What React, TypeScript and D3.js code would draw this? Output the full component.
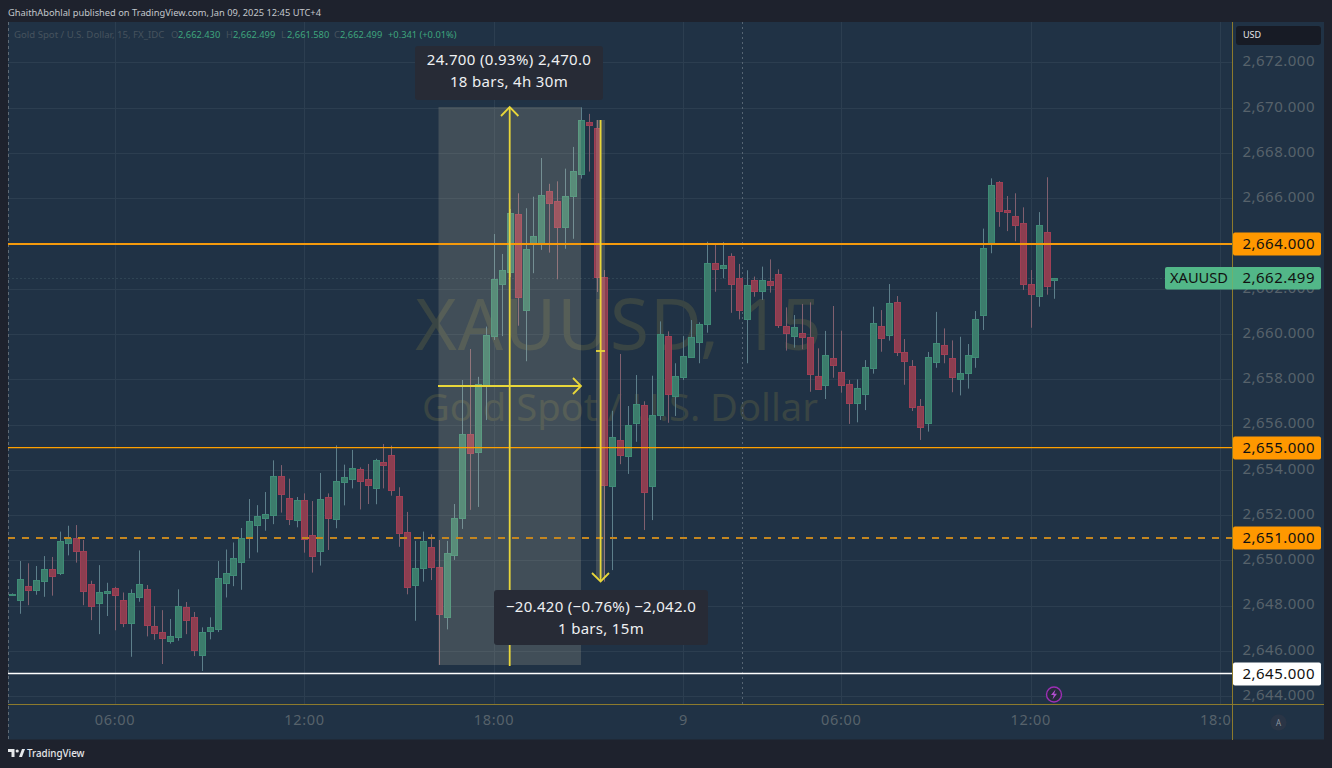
import React from "react";
import * as d3 from "d3";

const opens = [2648.50,2648.25,2648.88,2648.72,2649.12,2649.62,2649.44,2650.78,2651.03,2650.42,2648.96,2648.15,2648.60,2648.82,2648.25,2647.26,2648.38,2648.74,2647.10,2646.84,2646.47,2646.65,2647.94,2647.53,2645.85,2646.91,2647.00,2649.03,2649.39,2649.96,2651.05,2651.57,2651.90,2652.04,2653.77,2652.76,2651.82,
2652.69,2651.14,2650.43,2652.82,2651.86,2653.50,2653.63,2654.04,2653.62,2653.23,2654.37,2654.68,2652.88,2651.26,2648.95,2649.68,2650.62,2649.73,2647.53,2650.27,2651.91,2655.59,2654.82,2657.74,
2659.95,2662.25,2662.78,2665.31,2661.10,2664.00,2664.06,2666.33,2665.89,2664.75,2666.13,2667.11,2669.39,2669.13,2662.56,2653.32,2655.33,2654.63,2656.10,2656.87,2653.31,2656.44,2659.93,2657.30,2658.12,2659.01,2659.68,2660.48,2663.16,2662.95,2663.46,2662.48,2660.70,2662.40,2661.94,2662.35,2662.66,2660.36,2659.93,2660.05,2659.88,2658.15,2657.78,2658.95,2658.33,2657.80,2656.99,2657.38,2658.53,2660.36,2659.99,2661.42,2659.21,2658.61,2656.85,2656.10,2658.80,2659.52,2658.95,2658.05,2658.31,2659.02,2660.88,2664.00,2666.74,2665.49,2665.22,2664.91,2662.22,2661.69,2664.52,2662.43];
const highs = [2648.56,2649.99,2649.89,2649.77,2650.21,2650.17,2651.29,2651.55,2651.58,2650.92,2649.12,2649.81,2649.03,2648.85,2648.60,2648.74,2650.46,2648.93,2648.00,2647.82,2647.43,2648.74,2648.18,2647.74,2647.06,2647.50,2649.99,2650.50,2650.81,2651.45,2652.73,2652.46,2653.04,2654.44,2654.23,2653.63,2652.82,
2652.98,2652.64,2653.88,2652.98,2655.10,2654.25,2654.90,2654.13,2654.28,2654.51,2655.16,2655.09,2653.25,2652.16,2650.88,2651.29,2651.17,2650.92,2650.88,2652.51,2657.99,2659.36,2658.13,2660.35,
2664.44,2663.56,2665.55,2666.24,2665.58,2666.09,2667.80,2666.66,2666.77,2667.33,2668.29,2670.04,2669.75,2669.48,2662.85,2656.63,2659.14,2656.84,2658.21,2657.05,2658.18,2660.58,2660.14,2658.73,2659.93,2660.64,2660.54,2664.10,2663.96,2664.08,2663.59,2663.12,2662.84,2662.56,2663.00,2663.32,2662.88,2661.20,2660.86,2661.35,2661.42,2659.39,2660.16,2661.26,2660.17,2657.99,2658.02,2658.87,2661.23,2661.08,2662.23,2661.70,2659.80,2658.87,2657.15,2659.23,2661.00,2660.27,2659.74,2659.90,2659.58,2661.04,2664.68,2666.90,2666.78,2666.12,2666.24,2665.62,2662.85,2665.41,2666.95,2662.499];
const lows = [2648.48,2647.66,2648.04,2648.50,2648.41,2648.46,2649.37,2650.24,2649.92,2648.04,2647.38,2646.76,2647.56,2646.93,2647.07,2645.76,2648.19,2646.66,2646.51,2645.44,2646.34,2646.47,2646.76,2645.79,2645.13,2646.53,2646.85,2648.38,2648.88,2648.72,2650.11,2650.37,2651.33,2651.62,2652.13,2651.58,2651.48,
2650.36,2649.48,2649.79,2650.48,2651.44,2652.45,2653.20,2652.27,2652.51,2652.50,2653.20,2652.88,2650.62,2648.52,2647.35,2649.08,2649.15,2645.40,2646.97,2650.04,2651.41,2652.25,2652.38,2656.22,
2659.76,2659.93,2662.54,2660.39,2658.82,2662.71,2663.74,2663.62,2662.44,2663.79,2664.23,2666.89,2667.20,2661.88,2649.08,2649.59,2654.27,2653.84,2655.26,2651.36,2651.80,2656.22,2656.10,2656.40,2657.99,2658.97,2658.73,2660.08,2661.89,2662.48,2660.96,2660.67,2658.73,2661.67,2661.53,2661.85,2660.29,2659.29,2659.42,2659.35,2657.47,2657.55,2657.15,2658.09,2657.43,2656.05,2656.12,2656.66,2658.27,2659.24,2659.73,2659.05,2657.78,2656.62,2655.34,2655.71,2658.53,2658.73,2657.45,2657.31,2657.61,2658.53,2660.20,2663.59,2664.76,2664.57,2664.12,2661.97,2660.30,2661.23,2661.76,2661.58];
const closes = [2648.54,2649.18,2648.71,2649.15,2649.65,2649.34,2650.86,2651.03,2650.45,2648.68,2647.99,2648.62,2648.65,2648.49,2647.26,2648.56,2648.96,2647.15,2646.82,2646.60,2646.66,2647.99,2647.40,2646.07,2646.87,2647.06,2649.22,2649.44,2650.11,2650.99,2651.74,2651.96,2652.05,2653.73,2652.96,2651.86,2652.67,
2650.98,2650.23,2652.72,2651.91,2653.51,2653.70,2654.09,2653.53,2653.35,2654.47,2654.22,2653.14,2651.24,2648.83,2649.68,2650.86,2649.74,2647.66,2650.36,2651.88,2655.59,2654.78,2657.80,2659.97,
2662.44,2662.84,2665.36,2661.67,2663.77,2664.34,2666.15,2665.81,2664.76,2666.11,2667.21,2669.47,2669.27,2662.56,2653.35,2655.46,2654.68,2655.99,2656.93,2653.05,2656.44,2660.04,2657.38,2658.17,2659.05,2659.89,2660.48,2663.16,2662.91,2663.07,2662.25,2661.10,2662.19,2661.94,2662.40,2662.19,2660.43,2660.08,2660.32,2659.90,2658.27,2657.58,2659.08,2658.64,2657.78,2656.99,2657.62,2658.58,2660.50,2659.86,2661.38,2659.24,2658.84,2656.78,2655.93,2658.99,2659.61,2659.14,2658.11,2658.29,2659.11,2660.67,2663.82,2666.59,2665.47,2665.43,2664.85,2662.22,2661.80,2664.83,2662.16,2662.499];

const priceTicks = [2644,2646,2648,2650,2652,2654,2656,2658,2660,2662,2664,2666,2668,2670,2672];
const timeTickBars = [13,37,61,85,105,129,153];
const timeTickLabels = ["06:00","12:00","18:00","9","06:00","12:00","18:00"];
const levelPrices = [2664,2655,2651,2645];
const legendParts: [string, number, string][] = [
  ["O",171,"m"],["2,662.430",178,"v"],["H",226,"m"],["2,662.499",233,"v"],["L",281,"m"],["2,661.580",287,"v"],["C",334,"m"],["2,662.499",340,"v"],["+0.341 (+0.01%)",388,"v"],
];

const x = d3.scaleLinear().domain([0, 132]).range([12.4, 1054.4]);
const y = d3.scaleLinear().domain([2654, 2664]).range([470.3, 244]);
const fmt = d3.format(",.3f");
const FONT = "'Noto Sans', sans-serif";

const PANEL = "#203245";
const GRID = "#2c3e50";
const AXIS = "#8c7a2c";
const MUTED = "#57626b";
const LS = 0.5;

export default function App() {
  const clipRight = 1232;
  const snap = (v: number) => Math.floor(v) + 0.5;
  return (
    <svg width={1332} height={768} style={{ position: "fixed", left: 0, top: 0, display: "block" }} fontFamily={FONT}>
      <defs>
        <clipPath id="timeClip"><rect x={8} y={704} width={clipRight - 8} height={36} /></clipPath>
      </defs>
      <rect width={1332} height={768} fill="#1e222d" />
      <rect x={8} y={22} width={1316} height={717.5} fill={PANEL} />
      <text x={8} y={16} fontSize={9.3} fill="#c3c7cc">GhaithAbohlal published on TradingView.com, Jan 09, 2025 12:45 UTC+4</text>

      {priceTicks.map((p) => (
        <line key={p} x1={8} x2={clipRight} y1={snap(y(p))} y2={snap(y(p))} stroke={GRID} />
      ))}
      {timeTickBars.map((b) => (
        <line key={b} x1={Math.round(x(b)) + 0.5} x2={Math.round(x(b)) + 0.5} y1={22} y2={704} stroke={GRID} />
      ))}
      <line x1={8.5} x2={8.5} y1={22} y2={740} stroke="#5f6b76" strokeDasharray="3 3" />

      <text x={619} y={350} textAnchor="middle" fontSize={71} fill="#394544" style={{ letterSpacing: 1 }}>XAUUSD, 15</text>
      <text x={620} y={421} textAnchor="middle" fontSize={38.2} fill="#394544">Gold Spot / U.S. Dollar</text>

      <text x={14} y={38} fontSize={9.6} fill="#46525e">Gold Spot / U.S. Dollar, 15, FX_IDC</text>
      {legendParts.map(([t, px, kind], i) => (
        <text key={i} x={px} y={38} fontSize={9.3} fill={kind === "m" ? "#46525e" : "#3fa57d"}>{t}</text>
      ))}

      <line x1={742.5} x2={742.5} y1={22} y2={704} stroke="#566573" strokeDasharray="2 3" />
      <line x1={8} x2={1232} y1={278.5} y2={278.5} stroke="#2f4454" strokeDasharray="2 2" />

      {opens.map((o, i) => {
        const c = closes[i];
        const up = c >= o;
        const cx = Math.round(x(i));
        const top = Math.round(y(Math.max(o, c)));
        const bot = Math.round(y(Math.min(o, c)));
        return (
          <g key={i}>
            <line x1={cx + 0.5} x2={cx + 0.5} y1={y(highs[i])} y2={y(lows[i])} stroke={up ? "#5d7f8b" : "#80606f"} />
            <rect x={cx - 2.5} y={top + 0.5} width={6} height={Math.max(bot - top, 1)} fill={up ? "#3c7c6c" : "#8c3e50"} stroke={up ? "#3f8c76" : "#a03f55"} />
          </g>
        );
      })}

      <rect x={438.5} y={107} width={142.5} height={558} fill="#efe2bc" fillOpacity={0.165} />
      <rect x={596} y={120} width={9} height={458} fill="#efe2bc" fillOpacity={0.165} />

      <line x1={8} x2={1232} y1={244} y2={244} stroke="#f59a0c" strokeWidth={2} />
      <line x1={8} x2={1232} y1={447.6} y2={447.6} stroke="#ffa000" strokeWidth={1.4} />
      <line x1={8} x2={1232} y1={538} y2={538} stroke="#c48620" strokeWidth={2} strokeDasharray="7 7" />
      <line x1={8} x2={1232} y1={673.5} y2={673.5} stroke="#ffffff" strokeWidth={1.6} />

      <g stroke="#e8d63a" strokeWidth={1.8} fill="none">
        <line x1={509.7} x2={509.7} y1={107} y2={666} />
        <path d="M501,116 L509.7,107 L518.4,116" />
        <line x1={438} x2={581} y1={386} y2={386} />
        <path d="M573,378 L581,386 L573,394" />
        <line x1={600.6} x2={600.6} y1={120} y2={581} />
        <path d="M592,573 L600.6,581.5 L609,573" />
        <line x1={596} x2={605} y1={351} y2={351} />
      </g>

      <rect x={415} y={46} width={188} height={54} rx={3} fill="#272b36" />
      <text x={509} y={65} textAnchor="middle" fontSize={15} fill="#eef0f2" style={{ letterSpacing: 0.35 }}>24.700 (0.93%) 2,470.0</text>
      <text x={509} y={87} textAnchor="middle" fontSize={15} fill="#eef0f2" style={{ letterSpacing: 0.35 }}>18 bars, 4h 30m</text>
      <rect x={494} y={590} width={214} height={55} rx={3} fill="#272b36" />
      <text x={601} y={612} textAnchor="middle" fontSize={15} fill="#eef0f2" style={{ letterSpacing: 0.3 }}>−20.420 (−0.76%) −2,042.0</text>
      <text x={601} y={634} textAnchor="middle" fontSize={15} fill="#eef0f2" style={{ letterSpacing: 0.3 }}>1 bars, 15m</text>

      <line x1={8} x2={1324} y1={704.5} y2={704.5} stroke={AXIS} />
      <line x1={1232.5} x2={1232.5} y1={22} y2={740} stroke={AXIS} />

      <g clipPath="url(#timeClip)">
        {timeTickBars.map((b, i) => (
          <text key={b} x={x(b)} y={725} textAnchor="middle" fontSize={14.5} fill={MUTED} style={{ letterSpacing: 0.7 }}>{timeTickLabels[i]}</text>
        ))}
      </g>
      {priceTicks.map((p) => (
        <text key={p} x={1315} y={y(p) + 3.4} textAnchor="end" fontSize={15} fill={MUTED} style={{ letterSpacing: LS }}>{fmt(p)}</text>
      ))}

      <rect x={1236} y={26} width={85} height={19} rx={3} fill="#171b25" />
      <text x={1243} y={38} fontSize={9} fill="#e4e6ea">USD</text>

      {levelPrices.map((p, i) => (
        <g key={p}>
          <rect x={1233} y={Math.round(y(p)) - 11.5} width={88} height={23} rx={2} fill={i === 3 ? "#ffffff" : "#ff9800"} />
          <text x={1315} y={y(p) + 5} textAnchor="end" fontSize={15} fill="#111" style={{ letterSpacing: LS }}>{fmt(p)}</text>
        </g>
      ))}

      <rect x={1165} y={267} width={156} height={22.5} rx={2} fill="#52b788" />
      <line x1={1232.5} x2={1232.5} y1={267} y2={289.5} stroke="#6cb36f" />
      <text x={1170} y={283} fontSize={14.6} fill="#111">XAUUSD</text>
      <text x={1315} y={283} textAnchor="end" fontSize={15} fill="#111" style={{ letterSpacing: LS }}>{fmt(closes[132])}</text>

      <circle cx={1054} cy={694.5} r={7.5} fill="#252a3a" stroke="#9c2fb5" strokeWidth={1.4} />
      <path d="M1055.5,689.5 L1051,695 L1053.8,695 L1052.5,699.5 L1057,693.8 L1054.2,693.8 Z" fill="#b24fd0" />

      <circle cx={1278.5} cy={722.5} r={8} fill="#2a3546" />
      <text x={1278.5} y={725.5} textAnchor="middle" fontSize={8} fill="#8b96a1">A</text>

      <path d="M8,749 h6.5 v8 h-3 v-5 h-3.5 Z M19,757 l3,-8 h3 l-3,8 Z" fill="#e6e8ea" />
      <circle cx={17.2} cy={751} r={1.6} fill="#e6e8ea" />
      <text x={27} y={757} fontSize={9.8} fontWeight={500} fill="#e6e8ea">TradingView</text>
    </svg>
  );
}
